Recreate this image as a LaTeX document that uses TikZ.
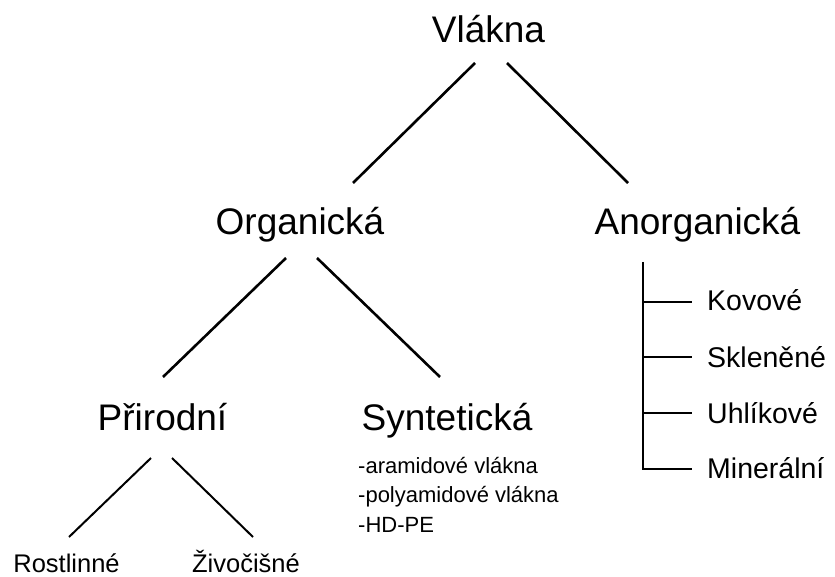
\documentclass[tikz,border=0pt]{standalone}
\usepackage{fontspec}
\setmainfont{Liberation Sans}
\begin{document}
\begin{tikzpicture}[x=1pt,y=-1pt,
  big/.style={font=\fontsize{37}{44}\selectfont, inner sep=0, anchor=base},
  mid/.style={font=\fontsize{28.5}{34}\selectfont, inner sep=0, anchor=base west},
  sml/.style={font=\fontsize{25.5}{30}\selectfont, inner sep=0, anchor=base},
  lst/.style={font=\fontsize{22}{26}\selectfont, inner sep=0, anchor=base west},
  con/.style={line width=2.6pt},
  thin/.style={line width=2pt}]
\useasboundingbox (0,0) rectangle (835,577);
% text nodes
\node[big] (vl) at (488.5,43) {Vlákna};
\node[big] (org) at (300,235) {Organická};
\node[big] (anorg) at (697.5,235) {Anorganická};
\node[big] (prir) at (162.5,430) {Přirodní};
\node[big] (synt) at (447,430) {Syntetická};
\node[sml] (rost) at (66.5,572.5) {Rostlinné};
\node[sml] (ziv) at (246,572.5) {Živočišné};
\node[mid] (kov) at (707,310) {Kovové};
\node[mid] (skl) at (707,367) {Skleněné};
\node[mid] (uhl) at (707,423) {Uhlíkové};
\node[mid] (minr) at (707,478) {Minerální};
\node[lst] (l1) at (358,473) {-aramidové vlákna};
\node[lst] (l2) at (358,502.5) {-polyamidové vlákna};
\node[lst] (l3) at (358,532) {-HD-PE};
% connector end points
\coordinate (vlL) at (475,63);  \coordinate (orgT) at (353,183);
\coordinate (vlR) at (507,63);  \coordinate (anT) at (628,183);
\coordinate (orgL) at (286,258); \coordinate (prT) at (163,377);
\coordinate (orgR) at (317,258); \coordinate (syT) at (440,377);
\coordinate (prL) at (151,458); \coordinate (roT) at (69,537);
\coordinate (prR) at (172,458); \coordinate (ziT) at (253,537);
\coordinate (anB) at (643,262);
\coordinate (t1) at (643,302); \coordinate (t2) at (643,357);
\coordinate (t3) at (643,413); \coordinate (t4) at (643,469);
\coordinate (e1) at (692,302); \coordinate (e2) at (692,357);
\coordinate (e3) at (692,413); \coordinate (e4) at (692,469);
% connectors
\draw[con] (vlL) -- (orgT);
\draw[con] (vlR) -- (anT);
\draw[con] (orgL) -- (prT);
\draw[con] (orgR) -- (syT);
\draw[thin] (prL) -- (roT);
\draw[thin] (prR) -- (ziT);
\draw[con] (anB) -- (t4) -- (e4);
\draw[con] (t1) -- (e1);
\draw[con] (t2) -- (e2);
\draw[con] (t3) -- (e3);
\end{tikzpicture}
\end{document}
